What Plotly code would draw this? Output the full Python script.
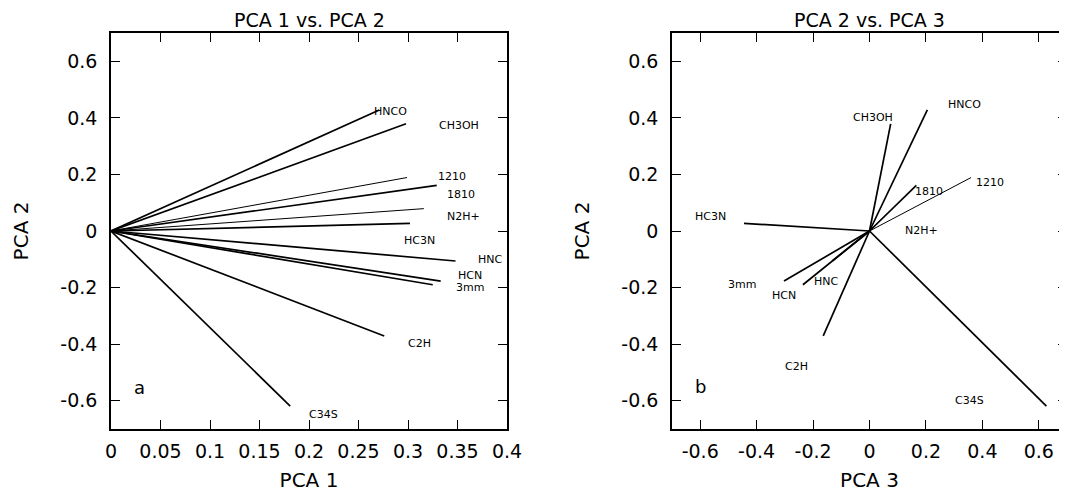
import plotly.graph_objects as go

# ---------------- data ----------------
variables = ["HNCO", "CH3OH", "1210", "1810", "N2H+", "HC3N", "HNC", "HCN", "3mm", "C2H", "C34S"]
pca1 = [0.271, 0.298, 0.299, 0.329, 0.316, 0.302, 0.348, 0.333, 0.325, 0.276, 0.181]
pca2 = [0.428, 0.379, 0.189, 0.161, 0.079, 0.027, -0.106, -0.177, -0.190, -0.371, -0.619]
pca3 = [0.205, 0.075, 0.360, 0.166, 0.081, -0.445, -0.132, -0.303, -0.236, -0.164, 0.627]
thin_vars = ["1210", "N2H+"]

# label positions (data units) for panel a (PCA1, PCA2) and panel b (PCA3, PCA2)
label_a_x = [0.282, 0.352, 0.344, 0.354, 0.356, 0.312, 0.3835, 0.363, 0.363, 0.312, 0.215]
label_a_y = [0.421, 0.372, 0.192, 0.130, 0.051, -0.032, -0.102, -0.157, -0.200, -0.399, -0.649]
label_b_x = [0.336, 0.013, 0.428, 0.210, 0.184, -0.563, -0.154, -0.303, -0.453, -0.258, 0.353]
label_b_y = [0.448, 0.400, 0.1705, 0.139, 0.000, 0.0505, -0.179, -0.228, -0.188, -0.479, -0.599]

panel_titles = ["PCA 1 vs. PCA 2", "PCA 2 vs. PCA 3"]
panel_tags = ["a", "b"]
tag_pos = [(0.029, -0.554), (-0.598, -0.55)]

x1_ticks = [0, 0.05, 0.1, 0.15, 0.2, 0.25, 0.3, 0.35, 0.4]
x1_text = ["0", "0.05", "0.1", "0.15", "0.2", "0.25", "0.3", "0.35", "0.4"]
x2_ticks = [-0.6, -0.4, -0.2, 0, 0.2, 0.4, 0.6]
x2_text = ["-0.6", "-0.4", "-0.2", "0", "0.2", "0.4", "0.6"]
y_ticks = [-0.6, -0.4, -0.2, 0, 0.2, 0.4, 0.6]
y_text = ["-0.6", "-0.4", "-0.2", "0", "0.2", "0.4", "0.6"]

# ---------------- figure ----------------
# the page body has an 8px margin, so the figure is sized to fill the rest of the window
OFF = 8
W, H = 1067 - OFF, 501 - OFF
FONT = "DejaVu Sans"
fig = go.Figure()

for i, v in enumerate(variables):
    w = 1.0 if v in thin_vars else 1.7
    fig.add_trace(go.Scatter(x=[0, pca1[i]], y=[0, pca2[i]], mode="lines",
                             line=dict(color="black", width=w),
                             xaxis="x", yaxis="y", showlegend=False, hoverinfo="skip"))
    fig.add_trace(go.Scatter(x=[0, pca3[i]], y=[0, pca2[i]], mode="lines",
                             line=dict(color="black", width=w),
                             xaxis="x2", yaxis="y2", showlegend=False, hoverinfo="skip"))

ann = []
for i, v in enumerate(variables):
    ann.append(dict(x=label_a_x[i], y=label_a_y[i], xref="x", yref="y", text=v,
                    showarrow=False, font=dict(family=FONT, size=11, color="black"),
                    xanchor="center", yanchor="middle"))
    ann.append(dict(x=label_b_x[i], y=label_b_y[i], xref="x2", yref="y2", text=v,
                    showarrow=False, font=dict(family=FONT, size=11, color="black"),
                    xanchor="center", yanchor="middle"))
for k, (tx, ty) in enumerate(tag_pos):
    ann.append(dict(x=tx, y=ty, xref="x" if k == 0 else "x2", yref="y" if k == 0 else "y2",
                    text=panel_tags[k], showarrow=False,
                    font=dict(family=FONT, size=18, color="black"),
                    xanchor="center", yanchor="middle"))


def px_x(sx):
    return (sx - OFF) / W


def px_y(sy):
    return 1 - (sy - OFF) / H


x1dom = [px_x(111), px_x(507)]
x2dom = [px_x(672), min(1.0, px_x(1067))]
ydom = [px_y(429), px_y(33)]

for k, dom in enumerate([x1dom, [px_x(672), px_x(1067)]]):
    ann.append(dict(x=(dom[0] + dom[1]) / 2, y=px_y(8), xref="paper", yref="paper",
                    text=panel_titles[k], showarrow=False,
                    font=dict(family=FONT, size=19, color="black"),
                    xanchor="center", yanchor="top", borderpad=0))

axis_common = dict(showgrid=False, zeroline=False, showline=True, linecolor="black",
                   linewidth=1.5, mirror="ticks", ticks="inside", ticklen=9,
                   tickwidth=1.3, tickcolor="black", automargin=False,
                   tickfont=dict(family=FONT, size=19, color="black"))

fig.update_layout(
    width=W, height=H,
    margin=dict(l=0, r=0, t=0, b=0),
    paper_bgcolor="white", plot_bgcolor="white",
    font=dict(family=FONT, color="black"),
    xaxis=dict(domain=x1dom, range=[0, 0.4], tickvals=x1_ticks, ticktext=x1_text,
               anchor="y", ticklabelstandoff=4,
               title=dict(text="PCA 1", font=dict(family=FONT, size=20), standoff=12),
               **axis_common),
    yaxis=dict(domain=ydom, range=[-0.7, 0.7], tickvals=y_ticks, ticktext=y_text,
               anchor="x", ticklabelstandoff=8,
               title=dict(text="PCA 2", font=dict(family=FONT, size=20), standoff=26),
               **axis_common),
    xaxis2=dict(domain=x2dom, range=[-0.7, 0.7], tickvals=x2_ticks, ticktext=x2_text,
                anchor="y2", ticklabelstandoff=4,
                title=dict(text="PCA 3", font=dict(family=FONT, size=20), standoff=12),
                **axis_common),
    yaxis2=dict(domain=ydom, range=[-0.7, 0.7], tickvals=y_ticks, ticktext=y_text,
                anchor="x2", ticklabelstandoff=8,
                title=dict(text="PCA 2", font=dict(family=FONT, size=20), standoff=26),
                **axis_common),
    annotations=ann,
)

fig.write_html("out.html")
